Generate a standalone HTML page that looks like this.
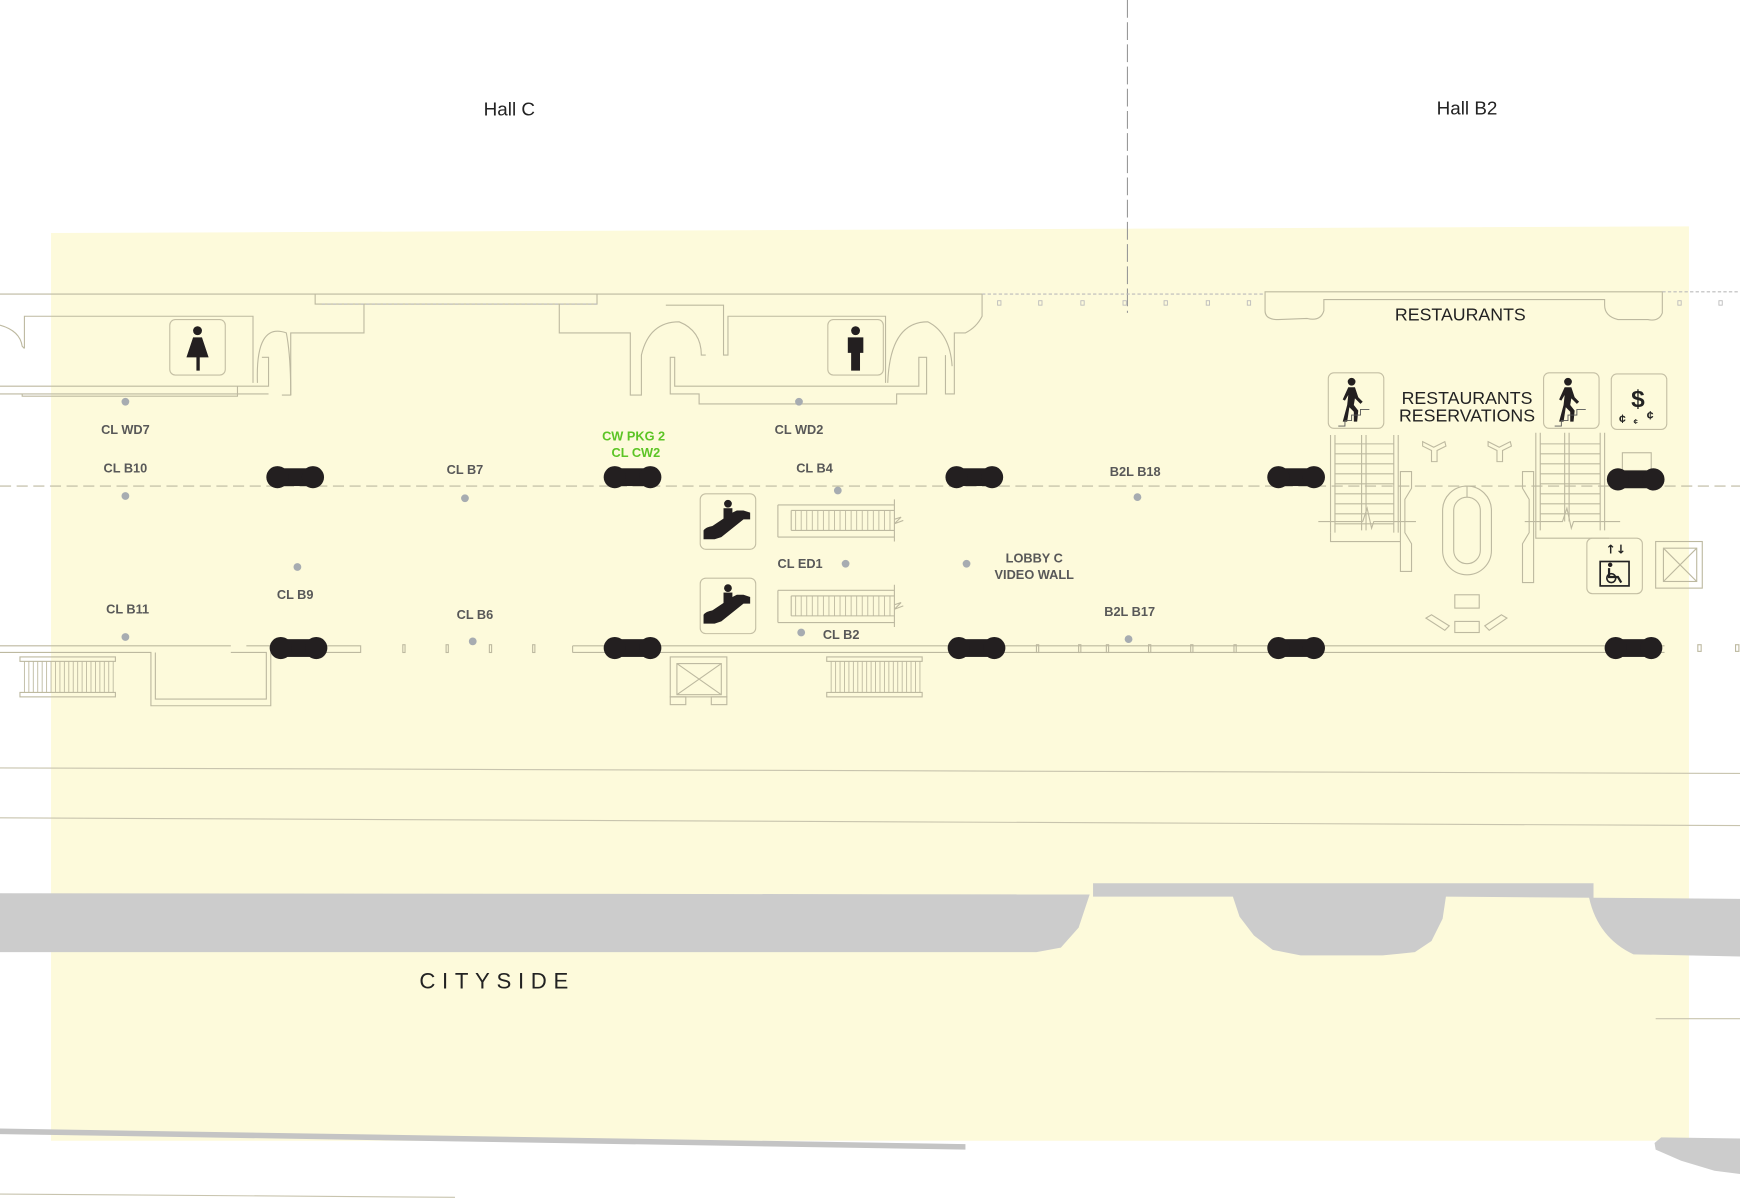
<!DOCTYPE html>
<html><head><meta charset="utf-8"><style>
html,body{margin:0;padding:0;background:#fff;}
svg{display:block;}
.l{fill:none;stroke:#bdb9a0;stroke-width:1;}
.lb{font-family:"Liberation Sans",sans-serif;font-weight:bold;font-size:11.5px;fill:#585858;}
.dot{fill:#a7acb1;}
.ic{fill:#231f20;}
.box{fill:none;stroke:#c4bfa4;stroke-width:1;}
</style></head><body>
<svg width="1740" height="1200" viewBox="0 0 1568 1081.4" preserveAspectRatio="none" xmlns="http://www.w3.org/2000/svg">
<defs>
<g id="pill"><rect x="-20" y="-8" width="40" height="16" class="ic"/><circle cx="-16" cy="0" r="10" class="ic"/><circle cx="16" cy="0" r="10" class="ic"/></g>
<g id="walker"><circle cx="0" cy="-18" r="3.5" class="ic"/><path d="M-3,-13 L3,-13 L6,-4 L10,0 L8,2 L3,-3 L2,3 L6,8 L5,18 L2,18 L2,9 L-2,5 L-4,18 L-8,18 L-4,3 L-3,-6 L-6,-1 L-8,-2 Z" class="ic"/><path d="M-12,22 L-6,22 L-6,17 L0,17 L0,12 L8,12 L8,7 L16,7" fill="none" stroke="#555" stroke-width="0.8"/></g>
<g id="esc"><path d="M-22,14 L-22,6 Q-20,3 -14,2 L4,-10 L8,-12 L14,-12 L20,-10 L20,-4 L14,-4 L-6,12 L-12,14 Z" class="ic"/><circle cx="0" cy="-18" r="3.5" class="ic"/><rect x="-4" y="-14" width="8" height="10" class="ic"/></g>
</defs>
<rect width="1568" height="1082" fill="#fff"/>
<polygon points="46,210 1522,204 1522,1028 46,1028" fill="#fdfadb"/>
<line x1="1016" y1="0" x2="1016" y2="282" stroke="#999" stroke-width="1" stroke-dasharray="16,4"/>
<text x="459" y="104" font-family="Liberation Sans,sans-serif" font-size="17" text-anchor="middle" fill="#222">Hall C</text>
<text x="1322" y="103" font-family="Liberation Sans,sans-serif" font-size="17" text-anchor="middle" fill="#222">Hall B2</text>

<path class="l" d="M0,265 L885,265 M885,265 L885,285 Q880,295 870,300 L860,300 L860,355 L852,355 L852,320"/>
<path class="l" d="M284,265 L284,274 L538,274 L538,265 M328,274 L328,300 L262,300 L262,356 L254,356"/>
<line x1="290" y1="274" x2="538" y2="274" stroke="#bbb" stroke-dasharray="3,2"/>
<path class="l" d="M22,314 L22,285 L228,285 L228,345 M236,322 L242,322 L242,348 L0,348 M0,355 L242,355 M20,355 L20,357 L214,357 L214,348"/>
<path class="l" d="M0,293 Q18,298 20,312 L22,314"/>
<path class="l" d="M232,345 Q230,290 258,300 Q262,320 262,356"/>
<path class="l" d="M504,274 L504,300 L568,300 L568,356 L578,356 L578,320 Q585,290 612,290 Q632,298 632,320 L636,320"/>
<path class="l" d="M600,275 L652,275 L652,320 L656,320 L656,285 L798,285 L798,345 M604,322 L608,322 L608,348 L828,348 L828,322 L835,322 L835,355 L808,355 L808,364 L630,364 L630,355 L604,355 Z"/>
<path class="l" d="M800,345 Q802,290 836,290 Q856,300 858,330"/>
<line x1="885" y1="265" x2="1140" y2="265" stroke="#bbb" stroke-dasharray="3,2"/>
<g fill="none" stroke="#bbb" stroke-width="0.8"><rect x="899" y="271" width="3" height="4"/><rect x="936" y="271" width="3" height="4"/><rect x="974" y="271" width="3" height="4"/><rect x="1012" y="271" width="3" height="4"/><rect x="1049" y="271" width="3" height="4"/><rect x="1087" y="271" width="3" height="4"/><rect x="1124" y="271" width="3" height="4"/><rect x="1512" y="271" width="3" height="4"/><rect x="1549" y="271" width="3" height="4"/></g>
<path class="l" d="M1140,263 L1498,263 L1498,282 Q1495,290 1485,288 L1458,288 Q1446,285 1446,275 L1446,270 L1193,270 L1193,280 Q1190,290 1178,287 L1152,288 Q1140,288 1140,280 Z"/>
<line x1="1498" y1="263" x2="1568" y2="263" stroke="#bbb" stroke-dasharray="3,2"/>
<text x="1316" y="289" font-family="Liberation Sans,sans-serif" font-size="16" text-anchor="middle" fill="#222">RESTAURANTS</text>

<rect x="153" y="288" width="50" height="50" rx="5" class="box"/>
<circle cx="178" cy="298" r="4" class="ic"/><path d="M174,304 L182,304 L188,322 L180,322 L180,334 L177,334 L177,322 L168,322 Z" class="ic"/>
<rect x="746" y="288" width="50" height="50" rx="5" class="box"/>
<circle cx="771" cy="298" r="4" class="ic"/><path d="M764,304 L778,304 L778,318 L775,318 L775,334 L767,334 L767,318 L764,318 Z" class="ic"/>

<line x1="0" y1="438" x2="1568" y2="438" stroke="#bdb9a0" stroke-dasharray="10,5"/>
<path class="l" d="M0,582 L208,582 M0,588 L136,588 L136,636 L244,636 L244,588 M140,588 L140,630 L240,630 L240,588 L208,588 M222,582 L325,582 L325,588 L244,588 M516,582 L1500,582 M516,588 L1500,588 M516,582 L516,588"/>
<g fill="none" stroke="#bdb9a0"><rect x="363" y="581" width="2" height="7"/><rect x="402" y="581" width="2" height="7"/><rect x="441" y="581" width="2" height="7"/><rect x="480" y="581" width="2" height="7"/><rect x="934" y="581" width="2" height="7"/><rect x="972" y="581" width="2" height="7"/><rect x="997" y="581" width="2" height="7"/><rect x="1035" y="581" width="2" height="7"/><rect x="1073" y="581" width="2" height="7"/><rect x="1112" y="581" width="2" height="7"/><rect x="1530" y="581" width="3" height="6"/><rect x="1564" y="581" width="3" height="6"/></g>
<g class="l"><rect x="18" y="592" width="86" height="4"/><rect x="18" y="624" width="86" height="4"/><rect x="745" y="592" width="86" height="4"/><rect x="745" y="624" width="86" height="4"/></g>
<g stroke="#bdb9a0" stroke-width="0.8">
<path d="M22,596V624M26,596V624M30,596V624M34,596V624M38,596V624M42,596V624M46,596V624M50,596V624M54,596V624M58,596V624M62,596V624M66,596V624M70,596V624M74,596V624M78,596V624M82,596V624M86,596V624M90,596V624M94,596V624M98,596V624M102,596V624"/>
<path d="M749,596V624M753,596V624M757,596V624M761,596V624M765,596V624M769,596V624M773,596V624M777,596V624M781,596V624M785,596V624M789,596V624M793,596V624M797,596V624M801,596V624M805,596V624M809,596V624M813,596V624M817,596V624M821,596V624M825,596V624M829,596V624"/>
</g>
<g class="l"><rect x="604" y="592" width="51" height="36"/><rect x="610" y="598" width="40" height="28"/><path d="M610,598L650,626M650,598L610,626"/><rect x="604" y="628" width="14" height="7"/><rect x="641" y="628" width="14" height="7"/></g>

<rect x="631" y="445" width="50" height="50" rx="5" class="box"/>
<use href="#esc" x="656" y="472"/>
<rect x="631" y="521" width="50" height="50" rx="5" class="box"/>
<use href="#esc" x="656" y="548"/>
<g class="l"><path d="M701,455 L806,455 M701,484 L806,484 M701,455 L701,484 M713,460 L806,460 M713,478 L806,478 M713,460 L713,478 M806,450 L806,488 M806,468 L812,466 L806,472 L814,469"/>
<path d="M701,532 L806,532 M701,561 L806,561 M701,532 L701,561 M713,537 L806,537 M713,555 L806,555 M713,537 L713,555 M806,527 L806,565 M806,545 L812,543 L806,549 L814,546"/></g>
<g stroke="#bdb9a0" stroke-width="0.8"><path d="M717,460V478M722,460V478M727,460V478M732,460V478M737,460V478M742,460V478M747,460V478M752,460V478M757,460V478M762,460V478M767,460V478M772,460V478M777,460V478M782,460V478M787,460V478M792,460V478M797,460V478M802,460V478"/>
<path d="M717,537V555M722,537V555M727,537V555M732,537V555M737,537V555M742,537V555M747,537V555M752,537V555M757,537V555M762,537V555M767,537V555M772,537V555M777,537V555M782,537V555M787,537V555M792,537V555M797,537V555M802,537V555"/></g>

<rect x="1197" y="336" width="50" height="50" rx="5" class="box"/><use href="#walker" x="1218" y="362"/>
<rect x="1391" y="336" width="50" height="50" rx="5" class="box"/><use href="#walker" x="1413" y="362"/>
<rect x="1452" y="337" width="50" height="50" rx="5" class="box"/>
<text x="1476" y="367" font-family="Liberation Sans,sans-serif" font-weight="bold" font-size="22" text-anchor="middle" fill="#222">$</text>
<text x="1462" y="381" font-family="Liberation Sans,sans-serif" font-weight="bold" font-size="11" text-anchor="middle" fill="#222">¢</text>
<text x="1474" y="382" font-family="Liberation Sans,sans-serif" font-weight="bold" font-size="7" text-anchor="middle" fill="#222">¢</text>
<text x="1487" y="378" font-family="Liberation Sans,sans-serif" font-weight="bold" font-size="11" text-anchor="middle" fill="#222">¢</text>
<text x="1322" y="364" font-family="Liberation Sans,sans-serif" font-size="16" text-anchor="middle" fill="#222">RESTAURANTS</text>
<text x="1322" y="380" font-family="Liberation Sans,sans-serif" font-size="16" text-anchor="middle" fill="#222">RESERVATIONS</text>
<g class="l">
<path d="M1199,392V480M1203,392V480M1227,392V478M1231,392V478M1256,392V480M1260,392V480"/>
<path d="M1203,400H1256M1203,409H1256M1203,418H1256M1203,427H1256M1203,436H1256M1203,445H1256M1203,454H1256M1203,463H1256M1203,472H1256"/>
<path d="M1188,470H1228L1232,458L1236,476L1238,470H1276M1199,480V488H1262"/>
<path d="M1262,425H1272V440L1266,450V480L1272,490V515H1262Z"/>
<path d="M1384,390V478M1388,390V478M1410,390V470M1414,390V470M1442,390V478M1446,390V478"/>
<path d="M1388,400H1442M1388,409H1442M1388,418H1442M1388,427H1442M1388,436H1442M1388,445H1442M1388,454H1442M1388,463H1442"/>
<path d="M1374,470H1408L1412,458L1416,476L1418,470H1460M1384,478V485H1450"/>
<path d="M1382,425H1372V440L1378,450V480L1372,490V525H1382Z"/>
<rect x="1300" y="438" width="44" height="80" rx="22"/><rect x="1310" y="448" width="24" height="60" rx="12"/><path d="M1322,438V448"/>
<path d="M1282,398L1292,403L1302,398L1303,402L1295,406L1295,416L1290,416L1290,406L1282,402Z"/>
<path d="M1341,398L1351,403L1361,398L1362,402L1354,406L1354,416L1349,416L1349,406L1341,402Z"/>
<rect x="1311" y="536" width="22" height="12"/><rect x="1311" y="560" width="22" height="10"/>
<path d="M1285,557L1290,554L1306,564L1302,568Z M1358,557L1353,554L1338,564L1342,568Z"/>
<rect x="1462" y="408" width="26" height="16"/>
<rect x="1492" y="488" width="42" height="42"/><rect x="1499" y="494" width="30" height="30"/><path d="M1499,494L1529,524M1529,494L1499,524"/>
</g>
<rect x="1430" y="485" width="50" height="50" rx="5" class="box"/>
<rect x="1442" y="506" width="26" height="22" fill="none" stroke="#222" stroke-width="1.5"/>
<circle cx="1451" cy="509" r="2" class="ic"/><path d="M1450,512V520H1458L1461,525" fill="none" stroke="#222" stroke-width="2"/><circle cx="1452" cy="521" r="4" fill="none" stroke="#222" stroke-width="1.5"/>
<text x="1456" y="499" font-family="DejaVu Sans,sans-serif" font-weight="bold" font-size="11" text-anchor="middle" fill="#222">↑↓</text>

<use href="#pill" x="266" y="430"/><use href="#pill" x="570" y="430"/><use href="#pill" x="878" y="430"/><use href="#pill" x="1168" y="430"/><use href="#pill" x="1474" y="432"/>
<use href="#pill" x="269" y="584"/><use href="#pill" x="570" y="584"/><use href="#pill" x="880" y="584"/><use href="#pill" x="1168" y="584"/><use href="#pill" x="1472" y="584"/>

<g class="dot"><circle cx="113" cy="362" r="3.5"/><circle cx="720" cy="362" r="3.5"/><circle cx="113" cy="447" r="3.5"/><circle cx="419" cy="449" r="3.5"/><circle cx="755" cy="442" r="3.5"/><circle cx="1025" cy="448" r="3.5"/><circle cx="268" cy="511" r="3.5"/><circle cx="762" cy="508" r="3.5"/><circle cx="871" cy="508" r="3.5"/><circle cx="113" cy="574" r="3.5"/><circle cx="426" cy="578" r="3.5"/><circle cx="722" cy="570" r="3.5"/><circle cx="1017" cy="576" r="3.5"/></g>
<text class="lb" x="113" y="391" text-anchor="middle">CL WD7</text>
<text class="lb" x="720" y="391" text-anchor="middle">CL WD2</text>
<text class="lb" x="571" y="397" text-anchor="middle" style="fill:#5cc425">CW PKG 2</text>
<text class="lb" x="573" y="412" text-anchor="middle" style="fill:#5cc425">CL CW2</text>
<text class="lb" x="113" y="426" text-anchor="middle">CL B10</text>
<text class="lb" x="419" y="427" text-anchor="middle">CL B7</text>
<text class="lb" x="734" y="426" text-anchor="middle">CL B4</text>
<text class="lb" x="1023" y="429" text-anchor="middle">B2L B18</text>
<text class="lb" x="721" y="512" text-anchor="middle">CL ED1</text>
<text class="lb" x="932" y="507" text-anchor="middle">LOBBY C</text>
<text class="lb" x="932" y="522" text-anchor="middle">VIDEO WALL</text>
<text class="lb" x="266" y="540" text-anchor="middle">CL B9</text>
<text class="lb" x="115" y="553" text-anchor="middle">CL B11</text>
<text class="lb" x="428" y="558" text-anchor="middle">CL B6</text>
<text class="lb" x="1018" y="555" text-anchor="middle">B2L B17</text>
<text class="lb" x="758" y="576" text-anchor="middle">CL B2</text>

<path d="M0,692 L1568,697 M0,737 L1568,744" stroke="#c8c4ae" stroke-width="1" fill="none"/>
<path d="M0,805 L982,806 L972,836 L956,854 L934,858 L0,858 Z" fill="#cccccc"/>
<path d="M985,796 L1436,796 L1436,809 L1432,809 Q1440,845 1472,860 L1568,862 L1568,810 L1436,809 L1303,808 L1300,828 L1290,848 L1275,858 L1246,861 L1172,861 L1147,856 L1130,843 L1117,826 L1111,808 L985,808 Z" fill="#cccccc"/>
<text x="448" y="891" font-family="Liberation Sans,sans-serif" font-size="20" letter-spacing="6" text-anchor="middle" fill="#222">CITYSIDE</text>
<line x1="1492" y1="918" x2="1568" y2="918" stroke="#c8c4ae"/>
<path d="M0,1017 L870,1031 L870,1036 L0,1022 Z" fill="#c4c4c4"/>
<line x1="0" y1="1076" x2="410" y2="1079" stroke="#c8c4ae"/>
<path d="M1497,1025 L1568,1026 L1568,1058 L1545,1055 L1515,1046 L1492,1036 L1491,1030 Z" fill="#cccccc"/>
</svg>
</body></html>
